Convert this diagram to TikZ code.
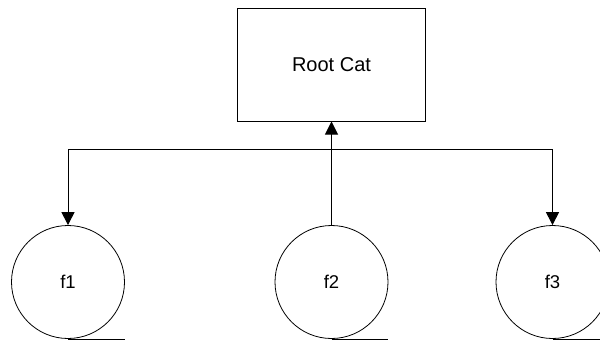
\documentclass[tikz,border=0pt]{standalone}
\usepackage{fontspec}
\setmainfont{Liberation Sans}
\usepackage{tikz}
\usetikzlibrary{arrows.meta,positioning}

\tikzset{
	catbox/.style={draw, line width=1pt, minimum width=188pt, minimum height=113pt, inner sep=0pt},
	filenode/.style={draw, circle, line width=0.8pt, minimum size=113pt, inner sep=0pt, font=\fontsize{18.5}{22}\selectfont},
	link/.style={line width=1pt, -{Triangle[length=13pt,width=13pt]}}
}

\begin{document}
\begin{tikzpicture}[x=1pt, y=-1pt, font=\fontsize{20}{24}\selectfont]
				\useasboundingbox (0,0) rectangle (600,341);
				\clip (0,0) rectangle (600,341);
				
				\node [catbox] (root) at (331.5,64.5) {Root Cat};
				
				\node [filenode] (f1) at (68,282) {f1};
				\node [filenode] (f2) at (331.5,282) {f2};
				\node [filenode] (f3) at (552.5,282) {f3};
				
				% tape tails under the files
				\draw [line width=0.8pt] (f1.south) -- (f1.south -| f1.east);
				\draw [line width=0.8pt] (f2.south) -- (f2.south -| f2.east);
				\draw [line width=0.8pt] (f3.south) -- (f3.south -| f3.east);
				
				\draw [link] (f2.north) -- (root.south);
				
				\coordinate (bus) at (331.5,149.5);
				\draw [link] (bus) -| (f1.north);
				\draw [link] (bus) -| (f3.north);
\end{tikzpicture}
\end{document}
